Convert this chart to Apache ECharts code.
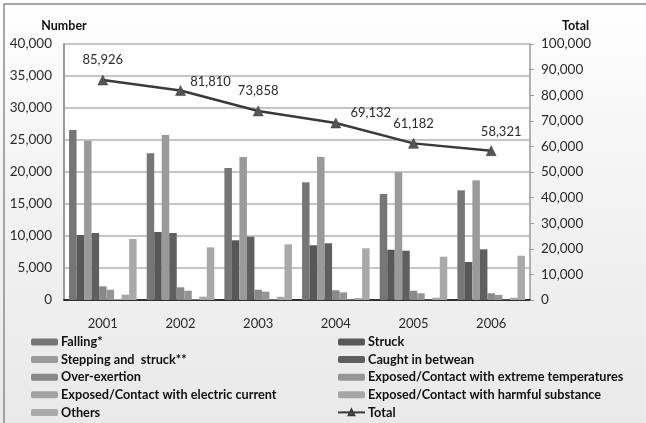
<!DOCTYPE html>
<html>
<head>
<meta charset="utf-8">
<script src="https://cdn.jsdelivr.net/npm/echarts@6/dist/echarts.min.js"></script>
<style>
  html, body { margin: 0; padding: 0; background: #ffffff; }
  #chart { width: 646px; height: 423px; }
</style>
</head>
<body>
<div id="chart"></div>
<script>
// Occupational accidents by type, 2001-2006
const years = ['2001', '2002', '2003', '2004', '2005', '2006'];

const falling      = [26560, 22920, 20630, 18390, 16560, 17140];
const struck       = [10160, 10630, 9330, 8550, 7860, 5940];
const stepping     = [24900, 25780, 22340, 22340, 19950, 18700];
const caught       = [10470, 10470, 9890, 8860, 7700, 7920];
const overExertion = [2140, 1980, 1610, 1520, 1450, 1050];
const extremeTemp  = [1610, 1450, 1300, 1200, 1050, 800];
const electric     = [150, 100, 100, 100, 50, 50];
const harmful      = [830, 520, 500, 300, 360, 350];
const others       = [9530, 8230, 8700, 8080, 6770, 6920];
const totals       = [85926, 81810, 73858, 69132, 61182, 58321];

const leftTicks  = { min: 0, max: 40000, interval: 5000 };
const rightTicks = { min: 0, max: 100000, interval: 10000 };

const FONT = "Lato, 'Liberation Sans', sans-serif";
const fmt = v => Number(v).toLocaleString('en-US');

const barSeries = [
  ['Falling*', falling, '#767676'],
  ['Struck', struck, '#585858'],
  ['Stepping and  struck**', stepping, '#9a9a9a'],
  ['Caught in betwean', caught, '#5f5f5f'],
  ['Over-exertion', overExertion, '#898989'],
  ['Exposed/Contact with extreme temperatures', extremeTemp, '#959595'],
  ['Exposed/Contact with electric current', electric, '#a2a2a2'],
  ['Exposed/Contact with harmful substance', harmful, '#a6a6a6'],
  ['Others', others, '#a9a9a9']
].map(([name, data, color]) => ({
  name, type: 'bar', data, yAxisIndex: 0,
  barGap: 0, barCategoryGap: '13%',
  itemStyle: { color },
  emphasis: { disabled: true }
}));

// label nudges for the total line (px, relative to the default top position)
const totalLabelNudge = [[0, 0], [30, 11], [0, 0], [35, 10], [0, 0], [10, 1]];

const totalSeries = {
  name: 'Total', type: 'line', yAxisIndex: 1,
  data: totals.map((v, i) => ({ value: v, label: { offset: totalLabelNudge[i] } })),
  symbol: 'triangle', symbolSize: 10,
  lineStyle: { color: '#3a3a3a', width: 2.5 },
  itemStyle: { color: '#555555', borderColor: '#3a3a3a', borderWidth: 0.5 },
  label: {
    show: true, position: 'top', distance: 8,
    formatter: p => fmt(p.value),
    fontFamily: FONT, fontSize: 13, color: '#2a2a2a'
  },
  z: 5,
  emphasis: { disabled: true }
};

const legendCommon = {
  orient: 'vertical', itemWidth: 27, itemHeight: 7, itemGap: 3.6,
  padding: 0, top: 335, height: 88,
  textStyle: { fontFamily: FONT, fontSize: 12.7, fontWeight: 'bold', color: '#111111', lineHeight: 14, padding: [0, 0, 0, -2] },
  selectedMode: false
};

const chart = echarts.init(document.getElementById('chart'), null, { renderer: 'canvas' });
chart.setOption({
  animation: false,
  backgroundColor: {
    type: 'linear', x: 0, y: 0, x2: 0, y2: 1,
    colorStops: [
      { offset: 0, color: '#ffffff' },
      { offset: 0.45, color: '#f3f3f3' },
      { offset: 1, color: '#e9e9e9' }
    ]
  },
  graphic: [{
    type: 'polyline', silent: true,
    shape: { points: [[4, 430], [4, 4], [650, 4]] },
    style: { fill: null, stroke: '#8a8a8a', lineWidth: 1.5 }
  }],
  grid: {
    left: 64, right: 116, top: 44, bottom: 123,
    show: true, backgroundColor: '#ffffff', borderWidth: 0
  },
  legend: [
    Object.assign({}, legendCommon, { left: 31,
      data: ['Falling*', 'Stepping and  struck**', 'Over-exertion',
             'Exposed/Contact with electric current', 'Others'] }),
    Object.assign({}, legendCommon, { left: 337,
      data: ['Struck', 'Caught in betwean', 'Exposed/Contact with extreme temperatures',
             'Exposed/Contact with harmful substance', 'Total'] })
  ],
  xAxis: {
    type: 'category', data: years,
    axisLine: { lineStyle: { color: '#000000', width: 1.5 } },
    axisTick: { show: false },
    axisLabel: { margin: 17, fontFamily: FONT, fontSize: 13, color: '#2a2a2a' }
  },
  yAxis: [
    {
      type: 'value', min: leftTicks.min, max: leftTicks.max, interval: leftTicks.interval,
      name: 'Number', nameLocation: 'end', nameGap: 12,
      nameTextStyle: { fontFamily: FONT, fontSize: 12.5, fontWeight: 'bold', color: '#111111' },
      axisLine: { show: true, lineStyle: { color: '#9a9a9a', width: 2 } },
      axisTick: { show: false },
      axisLabel: { margin: 12, fontFamily: FONT, fontSize: 13.5, color: '#2a2a2a', formatter: fmt },
      splitLine: { show: true, lineStyle: { color: '#b2b2b2', width: 1.5 } }
    },
    {
      type: 'value', position: 'right', min: rightTicks.min, max: rightTicks.max, interval: rightTicks.interval,
      name: 'Total', nameLocation: 'end', nameGap: 12,
      nameTextStyle: { fontFamily: FONT, fontSize: 12.5, fontWeight: 'bold', color: '#111111', align: 'left', padding: [0, 0, 0, 32] },
      axisLine: { show: true, lineStyle: { color: '#9a9a9a', width: 1.5 } },
      axisTick: { show: true, length: 4, lineStyle: { color: '#9a9a9a' } },
      axisLabel: { margin: 11, fontFamily: FONT, fontSize: 13.5, color: '#2a2a2a', formatter: fmt },
      splitLine: { show: false }
    }
  ],
  series: barSeries.concat([totalSeries])
});
</script>
</body>
</html>
